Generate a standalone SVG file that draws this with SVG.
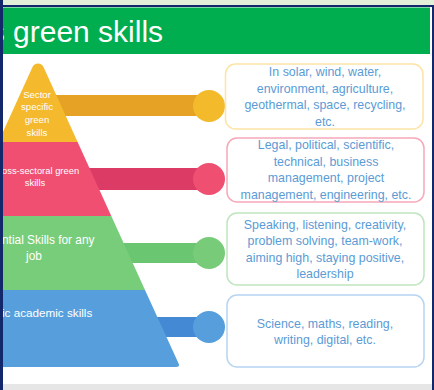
<svg xmlns="http://www.w3.org/2000/svg" width="434" height="390" viewBox="0 0 434 390">
<style>
.tw{fill:#ffffff;font-family:"Liberation Sans",Arial,sans-serif;}
.bt{fill:#5b9bd5;font-family:"Liberation Sans",Arial,sans-serif;font-size:12.4px;text-anchor:middle;}
.box{fill:#ffffff;stroke-width:1.5;}
</style>
<rect x="0" y="0" width="434" height="390" fill="#ffffff"/>
<rect x="0" y="0" width="434" height="5.5" fill="#e2efd9"/>
<rect x="3" y="384" width="429" height="6" fill="#e6e6e6"/>
<g id="header">
<rect x="3" y="7.5" width="427" height="46.5" fill="#00ae4f"/>
<text x="-10.3" y="42" class="tw" font-size="30">s green skills</text>
</g>
<g id="connectors">
<rect x="50" y="95" width="159" height="21" fill="#e5a224"/>
<rect x="80" y="168" width="129" height="22" fill="#db3b64"/>
<rect x="110" y="243" width="99" height="20" fill="#6ac671"/>
<rect x="140" y="317" width="69" height="20" fill="#4389d3"/>
<circle cx="209" cy="106" r="16" fill="#f3ba2c"/>
<circle cx="209" cy="179" r="16" fill="#ef4f70"/>
<circle cx="209" cy="253" r="16" fill="#78cc79"/>
<circle cx="209" cy="327" r="16" fill="#569fdc"/>
</g>
<g id="tier-sector">
<path d="M32.5 67 A6 6 0 0 1 43.5 67 L77.6 142 L-1.6 142 Z" fill="#f4b92c"/>
<text class="tw" font-size="9.6" text-anchor="middle"><tspan x="37" y="97.5">Sector</tspan><tspan x="37" y="110.2">specific</tspan><tspan x="37" y="122.9">green</tspan><tspan x="37" y="135.6">skills</tspan></text>
</g>
<g id="tier-cross">
<path d="M-1.6 142 L77.6 142 L111.3 216 L-35.3 216 Z" fill="#f04f71"/>
<text class="tw" font-size="9.4"><tspan x="2" y="173.5">oss-sectoral green</tspan><tspan x="35" y="185.5" text-anchor="middle">skills</tspan></text>
</g>
<g id="tier-essential">
<path d="M-35.3 216 L111.3 216 L145 290 L-69 290 Z" fill="#78cd7a"/>
<text class="tw" font-size="11.9"><tspan x="2" y="244">ntial Skills for any</tspan><tspan x="34" y="259.5" text-anchor="middle">job</tspan></text>
</g>
<g id="tier-basic">
<path d="M-69 290 L145 290 L178.6 363.4 Q180.3 367 176.3 367 L-104 367 Z" fill="#579fdc"/>
<text class="tw" font-size="11.7" x="2" y="317">ic academic skills</text>
</g>
<g id="box-sector">
<rect class="box" x="225.5" y="64" width="197.5" height="65" rx="10" stroke="#fde4a6"/>
<text class="bt"><tspan x="325" y="76">In solar, wind, water,</tspan><tspan x="325" y="92.5">environment, agriculture,</tspan><tspan x="325" y="109">geothermal, space, recycling,</tspan><tspan x="325" y="125.5">etc.</tspan></text>
</g>
<g id="box-cross">
<rect class="box" x="227" y="138" width="197" height="64" rx="10" stroke="#f6a8b9"/>
<text class="bt"><tspan x="326" y="149">Legal, political, scientific,</tspan><tspan x="326" y="166">technical, business</tspan><tspan x="326" y="182">management, project</tspan><tspan x="326" y="199">management, engineering, etc.</tspan></text>
</g>
<g id="box-essential">
<rect class="box" x="227" y="213" width="197" height="72" rx="10" stroke="#bfe5bd"/>
<text class="bt"><tspan x="325" y="228.5">Speaking, listening, creativity,</tspan><tspan x="325" y="245">problem solving, team-work,</tspan><tspan x="325" y="261.5">aiming high, staying positive,</tspan><tspan x="325" y="278">leadership</tspan></text>
</g>
<g id="box-basic">
<rect class="box" x="227" y="295" width="197" height="72" rx="10" stroke="#b7d4f1"/>
<text class="bt"><tspan x="325" y="327.5">Science, maths, reading,</tspan><tspan x="325" y="344">writing, digital, etc.</tspan></text>
</g>
<rect x="0" y="5" width="434" height="2" fill="#13286b"/>
<rect x="0" y="0" width="3" height="390" fill="#13286b"/>
<rect x="432" y="5" width="2" height="385" fill="#13286b"/>
</svg>
